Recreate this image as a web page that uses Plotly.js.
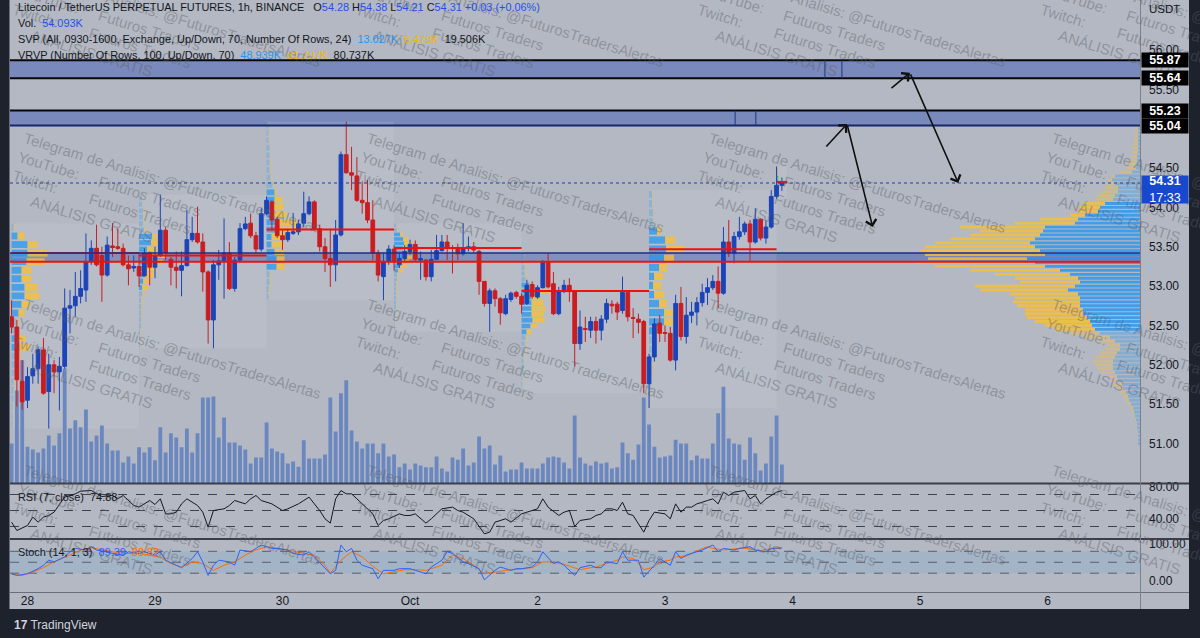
<!DOCTYPE html>
<html><head><meta charset="utf-8">
<script src="https://cdn.plot.ly/plotly-3.0.1.min.js"></script>
<style>html,body{margin:0;padding:0;background:#1e222d;}#chart{width:1200px;height:638px;}</style>
</head><body><div id="chart"></div>
<script>
// ---------------- DATA ----------------
const firstBar = '2022-09-27T21:00:00Z';   // first hourly candle (UTC)
const axisOrigin = '2022-09-28T00:00:00Z'; // "28" tick
const dayTickLabels = ['28','29','30','Oct','2','3','4','5','6'];
const priceTicks = [51,51.5,52,52.5,53,53.5,54,54.5,55.5,56];

const opens = [52.61,52.48,51.79,51.55,51.86,51.95,52.19,51.66,52.00,51.91,
51.98,52.72,52.75,52.87,52.95,53.31,53.48,53.39,53.14,53.51,
53.50,53.48,53.27,53.23,53.25,53.13,53.42,53.24,53.39,53.71,
53.34,53.24,53.20,53.26,53.59,53.67,53.56,53.18,52.57,53.27,
53.31,53.42,52.97,53.33,53.73,53.80,53.64,53.47,53.92,54.07,
53.85,53.64,53.59,53.67,53.69,53.80,53.92,54.07,53.73,53.50,
53.35,53.27,53.65,54.67,54.44,54.40,54.09,54.06,53.84,53.42,
53.12,53.31,53.47,53.27,53.35,53.44,53.53,53.33,53.33,53.12,
53.34,53.45,53.56,53.49,53.49,53.41,53.48,53.50,53.44,53.06,
52.78,52.94,52.84,52.65,52.83,52.92,52.87,52.78,53.02,52.86,
52.98,53.31,53.03,52.65,52.93,53.01,52.93,52.27,52.46,52.44,
52.55,52.44,52.58,52.77,52.77,52.69,52.92,52.60,52.58,52.55,
51.76,52.10,52.53,52.41,52.40,52.06,52.78,52.36,52.63,52.67,
52.79,52.92,52.98,53.06,52.91,53.56,53.42,53.63,53.69,53.79,
53.56,53.85,53.61,53.75,54.14,54.28];
const highs = [52.82,52.57,52.06,51.97,52.14,52.23,52.34,52.14,52.06,52.10,
52.97,52.95,53.18,53.20,53.67,53.58,53.78,53.50,53.63,53.80,
53.73,53.54,53.39,53.39,53.42,53.48,53.44,53.50,54.16,53.75,
53.37,53.44,53.44,53.97,53.88,54.01,53.67,53.20,53.33,53.46,
53.86,53.56,53.37,53.80,53.88,53.92,53.69,53.99,54.14,54.09,
53.88,53.71,53.73,53.93,53.84,54.20,54.14,54.09,53.78,53.61,
53.73,53.84,54.71,55.09,54.77,54.64,54.33,54.35,54.09,53.46,
53.42,53.52,53.52,53.42,53.52,53.59,53.58,53.44,53.35,53.46,
53.65,53.65,53.65,53.52,53.54,53.80,53.63,53.56,53.46,53.06,
52.97,52.97,52.86,52.89,52.93,52.94,52.91,53.08,53.06,53.01,
53.33,53.42,53.18,52.99,53.08,53.10,52.95,52.69,52.61,52.61,
52.61,52.63,52.84,52.82,52.80,53.12,52.95,52.72,52.65,52.57,
52.14,52.59,52.63,52.50,52.48,52.89,52.99,52.86,52.80,52.86,
53.03,53.10,53.14,53.25,53.75,53.84,53.69,53.88,53.82,53.84,
53.99,53.86,53.84,54.22,54.52,54.38];
const lows = [52.40,51.47,51.43,51.45,51.76,51.76,51.62,51.19,51.64,51.42,
51.95,52.40,52.61,52.78,52.80,53.27,53.25,52.80,53.12,53.37,
53.46,53.25,53.01,53.18,52.99,53.12,53.01,53.10,53.37,53.33,
53.01,52.97,52.87,53.25,53.56,53.54,52.93,52.27,52.21,53.08,
52.84,52.95,52.93,53.31,53.71,53.61,53.42,53.44,53.90,53.71,
53.61,53.46,53.56,53.65,53.65,53.75,53.90,53.71,53.44,53.18,
52.99,53.06,53.63,54.43,54.22,54.07,53.92,53.80,53.33,53.06,
52.82,53.27,53.20,53.23,53.31,53.40,53.31,53.08,53.07,53.06,
53.33,53.44,53.33,53.16,53.33,53.39,53.44,53.42,52.89,52.74,
52.42,52.74,52.51,52.63,52.80,52.84,52.65,52.76,52.84,52.84,
52.97,52.97,52.63,52.63,52.91,52.80,51.98,52.19,52.29,52.34,
52.27,52.31,52.53,52.65,52.57,52.65,52.55,52.34,52.40,51.64,
51.45,52.04,52.29,52.29,52.04,51.93,52.31,52.27,52.53,52.50,
52.74,52.76,52.95,52.72,52.89,53.37,53.29,53.59,53.65,53.31,
53.54,53.58,53.54,53.73,54.11,54.21];
const closes = [52.48,51.81,51.53,51.85,51.95,52.19,51.64,52.00,51.91,51.98,
52.72,52.75,52.87,52.97,53.31,53.48,53.27,53.14,53.52,53.49,
53.48,53.27,53.22,53.25,53.13,53.42,53.24,53.39,53.71,53.42,
53.24,53.20,53.26,53.59,53.67,53.56,53.18,52.57,53.27,53.32,
53.42,52.97,53.33,53.73,53.79,53.64,53.47,53.92,54.09,53.84,
53.64,53.59,53.68,53.69,53.79,53.92,54.07,53.73,53.50,53.35,
53.27,53.65,54.67,54.44,54.41,54.09,54.06,53.84,53.42,53.14,
53.31,53.47,53.31,53.35,53.44,53.53,53.34,53.35,53.12,53.34,
53.45,53.56,53.48,53.48,53.41,53.49,53.50,53.46,53.06,52.78,
52.94,52.84,52.66,52.84,52.91,52.87,52.77,53.01,52.87,52.98,
53.31,52.99,52.65,52.93,53.01,52.93,52.27,52.48,52.45,52.55,
52.44,52.58,52.78,52.75,52.67,52.92,52.61,52.59,52.54,51.76,
52.10,52.52,52.40,52.40,52.06,52.78,52.36,52.63,52.67,52.79,
52.92,52.98,53.06,52.91,53.56,53.42,53.63,53.69,53.79,53.56,
53.85,53.61,53.75,54.14,54.28,54.31];
// volume, thousands of LTC
const volumesK = [114,265,351,105,97,88,100,137,108,143,
328,157,180,160,211,120,137,165,114,94,
94,60,77,57,103,88,103,66,160,88,
143,131,103,157,88,143,245,245,248,131,
188,117,117,108,97,57,74,74,174,100,
91,86,57,63,48,123,71,71,71,83,
245,148,257,294,151,120,100,114,114,86,
114,77,83,46,57,40,57,51,46,46,
77,43,34,74,68,100,51,60,134,100,
108,54,80,34,40,40,60,43,43,43,
57,74,77,74,60,43,194,74,57,51,
63,57,60,43,46,117,86,68,111,245,
168,105,74,77,80,125,114,114,66,80,
71,71,114,200,276,128,114,111,68,131,
86,37,57,134,194,54.093];

// RSI(7) read at candle index
const rsiBar = [0,1,3,4,5,6,7,8,9,10,12,13,15,16,17,19,20,21,22,23,24,26,27,28,29,30,31,32,33,35,36,37,38,40,41,42,44,45,46,47,49,50,51,52,54,55,56,57,58,59,60,61,62,63,64,65,66,68,69,70,71,73,74,75,76,78,79,80,81,83,84,85,87,89,90,91,93,94,96,97,99,100,101,103,104,105,106,107,109,110,111,112,113,114,115,116,117,119,120,121,123,124,125,126,127,128,129,131,132,133,134,135,136,138,139,140,141,142,144,145];
const rsiVal = [35.4,25.0,31.3,41.7,35.4,41.7,43.8,47.9,57.5,66.7,70.8,74.2,75.0,70.8,67.5,68.8,64.6,68.8,62.5,56.3,54.2,62.5,57.5,64.6,45.8,45.8,47.9,58.3,64.6,56.3,47.9,29.2,50.0,52.1,56.3,62.5,58.3,64.6,68.8,62.5,58.3,54.2,50.0,52.1,58.3,62.5,66.7,58.3,50.0,39.6,34.2,64.6,75.0,70.8,70.8,64.6,58.3,45.8,31.3,37.5,39.6,45.8,43.8,43.8,45.8,34.2,39.6,45.8,52.1,54.2,50.0,47.9,39.6,20.8,22.9,35.4,39.6,35.4,45.8,47.9,52.1,64.6,54.2,43.8,47.9,50.0,30.0,37.5,39.6,43.8,45.8,52.1,52.1,50.0,60.4,45.8,43.8,22.9,37.5,47.9,45.8,39.6,58.3,47.9,54.2,54.2,58.3,62.5,64.6,58.3,72.9,68.8,72.9,75.0,64.6,68.8,58.3,64.6,72.9,74.88];
// Stoch(14,1,3) %K and %D read at candle index
const stochKBar = [0,1,3,5,6,7,8,10,11,12,14,15,16,18,19,21,22,24,25,27,28,29,31,32,34,35,36,37,38,39,41,42,43,45,46,47,49,50,52,53,55,56,57,59,60,61,62,63,64,65,66,68,69,70,72,73,75,76,78,79,81,82,83,85,86,88,89,91,92,94,95,96,98,99,100,102,103,104,106,107,109,110,111,112,114,115,116,118,119,121,122,124,125,126,127,129,130,132,133,134,136,137,139,140,142,143,145];
const stochK = [18.5,13.9,18.5,32.4,41.7,55.6,51.0,64.8,78.7,88.0,83.4,92.6,83.4,78.7,74.1,69.5,78.7,74.1,78.7,69.5,78.7,55.6,41.7,35.2,60.2,78.7,51.0,13.9,41.7,55.6,51.0,41.7,83.4,78.7,88.0,97.2,88.0,88.0,83.4,74.1,69.5,78.7,64.8,32.4,18.5,27.8,97.2,78.7,88.0,55.6,41.7,32.4,4.6,27.8,27.8,32.4,32.4,27.8,18.5,37.0,55.6,78.7,74.1,51.0,46.3,32.4,1.9,27.8,37.0,27.8,32.4,32.4,37.0,51.0,78.7,46.3,51.0,41.7,13.9,35.2,41.7,35.2,35.2,51.0,46.3,78.7,55.6,55.6,9.3,41.7,60.2,41.7,78.7,60.2,69.5,78.7,83.4,97.2,78.7,88.0,83.4,88.0,92.6,83.4,78.7,88.0,89.39];
const stochDBar = [0,2,4,6,8,11,13,15,17,19,21,24,26,28,30,32,34,36,38,40,42,44,46,48,50,52,55,57,59,60,62,64,66,68,70,72,74,76,78,81,83,85,87,89,91,94,96,98,100,102,104,107,109,110,112,114,115,117,118,119,121,122,124,125,127,128,129,131,132,134,135,137,138,140,141,142,145];
const stochD = [16.7,13.9,23.2,35.2,51.0,69.5,83.4,89.8,83.4,78.7,74.1,74.1,69.5,63.0,46.3,37.0,51.0,46.3,27.8,41.7,51.0,69.5,83.4,92.6,88.0,83.4,74.1,69.5,41.7,20.4,55.6,78.7,64.8,38.9,18.5,23.2,29.6,29.6,27.8,41.7,69.5,60.2,41.7,18.5,23.2,29.6,31.5,35.2,51.0,51.0,44.4,29.6,35.2,37.0,46.3,55.6,64.8,60.2,48.2,29.6,37.0,51.0,55.6,64.8,66.7,74.1,81.5,92.6,88.0,83.4,85.2,88.0,88.0,83.4,81.5,85.2,88.82];

// Horizontal zones / levels drawn on the chart
const zoneTop = [55.87, 55.23];
const zoneBottom = [55.64, 55.04];
const pocBand = [53.31, 53.42];
const vrvpPoc = 53.31;
const lastPrice = 54.31;
const countdown = '17:33';

// Session volume profiles (24 rows each, top to bottom), up / down volume
const svp1Up = [2,6,16,16,15,10,10,13,13,10,7,5,4,6,8,5,4,3,2,2,2,1,1,1];
const svp1Dn = [2,7,10,20,18,10,10,13,15,8,6,3,2,8,10,5,3,2,2,1,1,1,1,1];
const svp2Up = [3,3,4,4,4,5,13,12,8,12,10,5,5,4,3,3,2,2,2,2,2,1,1,1];
const svp2Dn = [1,1,2,2,2,3,5,8,10,15,14,12,10,8,6,4,3,2,2,1,1,1,1,1];
const svp3Up = [2,2,2,3,3,3,3,4,6,8,8,5,5,10,9,5,5,8,10,10,3,3,2,2];
const svp3Dn = [1,1,1,1,1,2,2,2,2,2,8,12,15,20,22,15,12,10,8,8,2,2,2,1];
const svp4Up = [2,3,6,9,10,9,10,8,7,5,4,3,3,2,2,2,2,2,2,1,1,1,1,1];
const svp4Dn = [1,1,3,5,8,15,12,10,8,8,5,2,2,2,2,2,1,1,1,1,1,1,1,1];
const svp5Up = [2,2,3,3,4,8,12,10,10,10,10,11,9,5,4,3,2,2,2,2,2,1,1,1];
const svp5Dn = [1,1,2,2,2,3,16,9,12,14,12,12,7,5,3,2,2,2,1,1,1,1,1,1];
const svp6Up = [3,3,4,4,8,16,17,15,10,5,4,5,10,15,15,6,4,3,3,2,2,2,1,1];
const svp6Dn = [1,1,1,1,4,10,18,10,8,9,8,10,8,10,9,7,4,4,3,2,2,1,1,1];
const svp7Up = [0,1,1,1,1,1,1,2,2,2,2,3,3,2,2,2,2,1,1,1,1,1,0,0];
const svp7Dn = [1,1,1,1,1,1,1,1,1,1,1,2,1,1,1,1,1,1,1,1,1,1,1,0];

// Visible range volume profile, rows from 55.00 down in 0.05 steps
const vrvpTop = 55.00, vrvpStep = 0.05;
const vrvpUp = [2,2,2,2,2,2,2,3,3,3, 4,8,25,28,25,22,22,25,27,35, 40,42,55,62,65,95,97,100,105,110, 105,100,95,113,105,95,80,70,62,60, 65,72,62,60,60,60,57,57,53,50, 48,45,40,30,25,20,20,23,25,27, 27,27,25,23,22,18,17,14,12,11, 9,7,6,5,4,3,3,2,2,2, 2];
const vrvpDown = [2,3,4,4,5,5,5,5,7,9, 10,12,3,4,7,13,16,17,18,20, 20,20,15,38,60,85,63,70,85,95, 110,120,120,99,120,110,90,75,63,60, 100,88,68,65,67,63,58,58,60,55, 47,40,30,25,15,13,15,17,20,20, 18,15,13,10,8,9,6,6,5,4, 3,3,2,1,1,1,0,1,0,0, 0];

const svpLegendVals = [13.027, 6.479, 19.506];
const vrvpLegendVals = [48.939, 31.797, 80.737];

// hand drawn arrows: [tailHour, tailPrice, headHour, headPrice]
const arrowSegs = [[150.1,54.755,154.26,55.06],[154.26,55.06,159.1,53.75],[162.35,55.50,166.1,55.71],[166.1,55.71,175.2,54.31]];
const zoneMarks = [[150.1,55.64,55.87],[153.3,55.64,55.87],[133.2,55.04,55.23],[137.1,55.04,55.23]];

// ---------------- GEOMETRY / STYLE ----------------
const W = 1200, H = 638;
const px = x => x / W, py = y => 1 - y / H;
const PXH = 127.5 / 24;             // px per hour
const HPX = 1 / PXH;                // hours per px
const X0PX = 27.5;                  // px of axisOrigin
const hourAt = x => (x - X0PX) * HPX;
const PPX = 78.7;                   // px per 1.00 USDT
const priceAt = y => 56 - (y - 50) / PPX;
const H0 = (Date.parse(firstBar) - Date.parse(axisOrigin)) / 3.6e6;
const barX = i => H0 + i;
const N = closes.length;
const xs = closes.map((_, i) => barX(i));

const BG = '#b4b8c2', DARK = '#1e222d', TXT = '#131722';
const UP = '#1a44b8', DN = '#c91d22';
const FONT = 'Liberation Sans, Arial, sans-serif';
const VOLK_PER_PX = 2.85;

const traces = [];
traces.push({type:'bar', x: xs, y: volumesK, xaxis:'x', yaxis:'y', width: 0.72,
  marker:{color:'#6b87c0', line:{width:0}}, hoverinfo:'skip'});

const shapes = [];
const annotations = [];

// session profiles
const sessUp = [svp1Up, svp2Up, svp3Up, svp4Up, svp5Up, svp6Up, svp7Up];
const sessDn = [svp1Dn, svp2Dn, svp3Dn, svp4Dn, svp5Dn, svp6Dn, svp7Dn];
const SESSION = 24;
sessUp.forEach((up, s) => {
  const dn = sessDn[s];
  const i0 = s * SESSION, i1 = Math.min(i0 + SESSION - 1, N - 1);
  const hi = Math.max(...highs.slice(i0, i1 + 1));
  const lo = Math.min(...lows.slice(i0, i1 + 1));
  const rh = (hi - lo) / up.length;
  const ys = up.map((_, r) => hi - (r + 0.5) * rh);
  const x0 = barX(i0), x1 = barX(i1) + 1;
  const tot = up.map((v, r) => v + dn[r]);
  const mx = Math.max(...tot);
  const poc = tot.indexOf(mx);
  const strong = tot.map(t => t >= 0.3 * mx);
  shapes.push({type:'rect', xref:'x', yref:'y2', x0, x1, y0: lo, y1: hi,
    fillcolor:'rgba(214,224,240,0.13)', line:{width:0}, layer:'below'});
  traces.push({type:'bar', orientation:'h', xaxis:'x', yaxis:'y2', y: ys,
    x: up.map(v => v * HPX), base: x0, width: rh * 0.8, hoverinfo:'skip',
    marker:{color: strong.map(f => f ? 'rgba(33,150,243,0.72)' : 'rgba(33,150,243,0.28)'), line:{width:0}}});
  traces.push({type:'bar', orientation:'h', xaxis:'x', yaxis:'y2', y: ys,
    x: dn.map(v => v * HPX), base: up.map(v => x0 + v * HPX), width: rh * 0.8, hoverinfo:'skip',
    marker:{color: strong.map(f => f ? 'rgba(251,192,45,0.75)' : 'rgba(251,192,45,0.3)'), line:{width:0}}});
  shapes.push({type:'line', xref:'x', yref:'y2', x0, x1, y0: ys[poc], y1: ys[poc],
    line:{color:'#f01010', width:2}, layer:'above'});
});

// VRVP on the right edge
const xRange = [hourAt(10), hourAt(1140)];
const R = xRange[1];
const vrvpY = vrvpUp.map((_, i) => vrvpTop - i * vrvpStep);
const inVA = vrvpY.map(p => p >= 52.45 && p <= 54.05);
traces.push({type:'bar', orientation:'h', xaxis:'x', yaxis:'y2', y: vrvpY,
  x: vrvpUp.map(v => v * HPX), base: vrvpUp.map(v => R - v * HPX), width: vrvpStep * 0.72, hoverinfo:'skip',
  marker:{color: inVA.map(f => f ? 'rgba(33,150,243,0.78)' : 'rgba(33,150,243,0.32)'), line:{width:0}}});
traces.push({type:'bar', orientation:'h', xaxis:'x', yaxis:'y2', y: vrvpY,
  x: vrvpDown.map(v => v * HPX), base: vrvpUp.map((v, i) => R - (v + vrvpDown[i]) * HPX), width: vrvpStep * 0.72, hoverinfo:'skip',
  marker:{color: inVA.map(f => f ? 'rgba(251,192,45,0.78)' : 'rgba(251,192,45,0.35)'), line:{width:0}}});

// candles
traces.push({type:'candlestick', x: xs, open: opens, high: highs, low: lows, close: closes,
  xaxis:'x', yaxis:'y2', whiskerwidth: 0, hoverinfo:'skip',
  increasing:{line:{color:UP, width:1}, fillcolor:UP},
  decreasing:{line:{color:DN, width:1}, fillcolor:DN}});

// RSI & Stoch
traces.push({type:'scatter', mode:'lines', x: rsiBar.map(barX), y: rsiVal, xaxis:'x', yaxis:'y3',
  line:{color:'#131722', width:1}, hoverinfo:'skip'});
traces.push({type:'scatter', mode:'lines', x: stochDBar.map(barX), y: stochD, xaxis:'x', yaxis:'y4',
  line:{color:'#ff6d00', width:1}, hoverinfo:'skip'});
traces.push({type:'scatter', mode:'lines', x: stochKBar.map(barX), y: stochK, xaxis:'x', yaxis:'y4',
  line:{color:'#2962ff', width:1}, hoverinfo:'skip'});

// zones
zoneTop.forEach((t, z) => {
  const b = zoneBottom[z];
  shapes.push({type:'rect', xref:'paper', yref:'y2', x0: px(10), x1: px(1140), y0: b, y1: t,
    fillcolor:'rgba(48,80,180,0.45)', line:{width:0}, layer:'below'});
  shapes.push({type:'line', xref:'paper', yref:'y2', x0: px(10), x1: px(1140), y0: t, y1: t,
    line:{color:'#05070d', width:2}, layer:'above'});
  shapes.push({type:'line', xref:'paper', yref:'y2', x0: px(10), x1: px(1140), y0: b, y1: b,
    line:{color: z === 0 ? '#05070d' : '#16276b', width:2}, layer:'above'});
});
zoneMarks.forEach(m => shapes.push({type:'line', xref:'x', yref:'y2', x0:m[0], x1:m[0], y0:m[1], y1:m[2],
  line:{color:'#1d3488', width:1}, layer:'above'}));
shapes.push({type:'rect', xref:'paper', yref:'y2', x0: px(10), x1: px(1140), y0: pocBand[0], y1: pocBand[1],
  fillcolor:'rgba(40,70,170,0.45)', line:{width:0}, layer:'below'});
shapes.push({type:'line', xref:'paper', yref:'y2', x0: px(10), x1: px(1140), y0: pocBand[1], y1: pocBand[1],
  line:{color:'#1c2f86', width:1.5}, layer:'above'});
shapes.push({type:'line', xref:'paper', yref:'y2', x0: px(10), x1: px(1140), y0: vrvpPoc, y1: vrvpPoc,
  line:{color:'#f01010', width:2}, layer:'above'});
shapes.push({type:'line', xref:'paper', yref:'y2', x0: px(10), x1: px(1140), y0: lastPrice, y1: lastPrice,
  line:{color:'#1b3fb0', width:1, dash:'dot'}, layer:'above'});

// indicator guide lines
[70, 50, 30].forEach(v => shapes.push({type:'line', xref:'paper', yref:'y3', x0: px(10), x1: px(1140), y0: v, y1: v,
  line:{color:'#3f434e', width:1, dash:'dash'}, layer:'below'}));
shapes.push({type:'rect', xref:'paper', yref:'y4', x0: px(10), x1: px(1140), y0: 20, y1: 80,
  fillcolor:'rgba(33,150,243,0.10)', line:{width:0}, layer:'below'});
[80, 50, 20].forEach(v => shapes.push({type:'line', xref:'paper', yref:'y4', x0: px(10), x1: px(1140), y0: v, y1: v,
  line:{color:'#5a5e69', width:1, dash:'dash'}, layer:'below'}));

// frame: separators and dark surround
[[483.5, 2], [539, 2]].forEach(([y, w]) => shapes.push({type:'line', xref:'paper', yref:'paper',
  x0: px(10), x1: px(1189), y0: py(y), y1: py(y), line:{color:'#3a3e49', width:w}, layer:'above'}));
shapes.push({type:'line', xref:'paper', yref:'paper', x0: px(10), x1: px(1189), y0: py(592.5), y1: py(592.5),
  line:{color:'#6a6e79', width:1}, layer:'above'});
shapes.push({type:'line', xref:'paper', yref:'paper', x0: px(1140.5), x1: px(1140.5), y0: py(609), y1: 1,
  line:{color:'#7c808b', width:1}, layer:'above'});
shapes.push({type:'rect', xref:'paper', yref:'paper', x0: 0, x1: px(9.5), y0: 0, y1: 1, fillcolor: DARK, line:{width:0}, layer:'above'});
shapes.push({type:'rect', xref:'paper', yref:'paper', x0: px(1189), x1: 1, y0: 0, y1: 1, fillcolor: DARK, line:{width:0}, layer:'above'});
shapes.push({type:'rect', xref:'paper', yref:'paper', x0: 0, x1: 1, y0: 0, y1: py(609), fillcolor: DARK, line:{width:0}, layer:'above'});

// watermark
const nb = n => '\u00a0'.repeat(n);
const wmText = 'Telegram de Analisis: @FuturosTradersAlertas<br>YouTube:' + nb(5) + 'Futuros Traders<br>Twitch:' + nb(8) + 'Futuros Traders<br>' + nb(6) + 'ANÁLISIS GRATIS';
[22, 365, 707, 1050].forEach(cx => [-26, 140, 306, 472].forEach(cy => {
  annotations.push({xref:'paper', yref:'paper', x: px(cx + 142), y: py(cy + 71), xanchor:'center', yanchor:'middle',
    text: wmText, showarrow:false, align:'left', textangle: 17,
    font:{family: FONT, size: 15, color:'rgba(88,93,104,0.42)'}});
}));

// arrows
arrowSegs.forEach(a => annotations.push({xref:'x', yref:'y2', axref:'x', ayref:'y2',
  ax: a[0], ay: a[1], x: a[2], y: a[3], text:'', showarrow:true, arrowhead: 4, arrowsize: 1.3,
  arrowwidth: 1.6, arrowcolor:'#101010', standoff: 0, startstandoff: 0}));

// price scale labels
const boxLab = (y, txt, bg, hgt, anchor, shift) => annotations.push({xref:'paper', yref:'y2', x: px(1140.5), y,
  xanchor:'left', yanchor: anchor, yshift: shift, text: txt, showarrow:false, bgcolor: bg, width: 46, height: hgt,
  borderpad: 0, align:'center', valign:'middle', font:{family: FONT, size: 12.5, color:'#ffffff'}});
zoneTop.forEach((t, z) => { boxLab(t, '<b>' + t.toFixed(2) + '</b>', '#000000', 14, 'middle', 0);
  boxLab(zoneBottom[z], '<b>' + zoneBottom[z].toFixed(2) + '</b>', '#000000', 14, 'middle', 0); });
boxLab(lastPrice, '<b>' + lastPrice.toFixed(2) + '</b><br>' + countdown, '#1848cc', 27, 'top', 8);
annotations.push({xref:'paper', yref:'paper', x: px(1147), y: py(9), xanchor:'left', yanchor:'middle',
  text:'USDT', showarrow:false, font:{family: FONT, size: 11.5, color: TXT}});

// legends
const BLUE = '#1e53e5', LBLUE = '#2196f3', YEL = '#f5b400';
const c = (col, t) => '<span style="color:' + col + '">' + t + '</span>';
const L = N - 1;
const chg = closes[L] - closes[L - 1];
const line1 = 'Litecoin / TetherUS PERPETUAL FUTURES, 1h, BINANCE' + nb(3) +
  'O' + c(BLUE, opens[L].toFixed(2)) + nb(1) + 'H' + c(BLUE, highs[L].toFixed(2)) + nb(1) +
  'L' + c(BLUE, lows[L].toFixed(2)) + nb(1) + 'C' + c(BLUE, closes[L].toFixed(2)) + nb(1) +
  c(BLUE, '+' + chg.toFixed(2) + ' (+' + (chg / closes[L - 1] * 100).toFixed(2) + '%)');
const line2 = 'Vol.' + nb(2) + c(BLUE, volumesK[L].toFixed(3) + 'K');
const line3 = 'SVP (All, 0930-1600, Exchange, Up/Down, 70, Number Of Rows, 24)' + nb(2) +
  c(LBLUE, svpLegendVals[0].toFixed(3) + 'K') + nb(2) + c(YEL, svpLegendVals[1].toFixed(3) + 'K') + nb(2) + svpLegendVals[2].toFixed(3) + 'K';
const line4 = 'VRVP (Number Of Rows, 100, Up/Down, 70)' + nb(2) +
  c(LBLUE, vrvpLegendVals[0].toFixed(3) + 'K') + nb(2) + c(YEL, vrvpLegendVals[1].toFixed(3) + 'K') + nb(2) + vrvpLegendVals[2].toFixed(3) + 'K';
const lastK = stochK[stochK.length - 1], lastD = stochD[stochD.length - 1];
const line5 = 'RSI (7, close)' + nb(2) + rsiVal[rsiVal.length - 1].toFixed(2);
const line6 = 'Stoch (14, 1, 3)' + nb(2) + c('#2962ff', lastK.toFixed(2)) + nb(2) + c('#ff6d00', lastD.toFixed(2));
[[line1, 7], [line2, 23], [line3, 39], [line4, 55], [line5, 497], [line6, 552]].forEach(([t, y]) =>
  annotations.push({xref:'paper', yref:'paper', x: px(16), y: py(y), xanchor:'left', yanchor:'middle',
    text: t, showarrow:false, font:{family: FONT, size: 10.9, color: TXT}}));
annotations.push({xref:'paper', yref:'paper', x: px(12), y: py(625), xanchor:'left', yanchor:'middle',
  text:'<b>17</b> TradingView', showarrow:false, font:{family: FONT, size: 12, color:'#d1d4dc'}});

const dayTickVals = dayTickLabels.map((_, i) => i * 24);
const axBase = {showgrid:false, zeroline:false, showline:false, fixedrange:true};
const layout = {
  width: W, height: H, margin:{l:0, r:0, t:0, b:0},
  paper_bgcolor: BG, plot_bgcolor:'rgba(0,0,0,0)', showlegend:false, hovermode:false,
  barmode:'overlay', boxgap: 0.3, boxgroupgap: 0,
  font:{family: FONT, size: 12, color: TXT},
  xaxis: Object.assign({}, axBase, {domain:[px(10), px(1140)], range: xRange, anchor:'y4',
    tickmode:'array', tickvals: dayTickVals, ticktext: dayTickLabels, ticks:'', ticklabelstandoff: 0,
    tickfont:{size:12, color: TXT}, rangeslider:{visible:false}}),
  yaxis: Object.assign({}, axBase, {domain:[py(483.5), 1], range:[0, 483.5 * VOLK_PER_PX], visible:false}),
  yaxis2: Object.assign({}, axBase, {overlaying:'y', side:'right', anchor:'x',
    range:[priceAt(483.5), priceAt(0)], tickmode:'array', tickvals: priceTicks,
    ticktext: priceTicks.map(v => v.toFixed(2)), ticks:'', ticklabelstandoff: 8, tickfont:{size:12, color: TXT}}),
  yaxis3: Object.assign({}, axBase, {domain:[py(538), py(485)], anchor:'x', side:'right', range:[15.6, 81.9],
    tickmode:'array', tickvals:[40, 80], ticktext:['40.00', '80.00'], ticks:'', ticklabelstandoff: 8, tickfont:{size:12, color: TXT}}),
  yaxis4: Object.assign({}, axBase, {domain:[py(592), py(540)], anchor:'x', side:'right', range:[-31.5, 110.96],
    tickmode:'array', tickvals:[0, 100], ticktext:['0.00', '100.00'], ticks:'', ticklabelstandoff: 8, tickfont:{size:12, color: TXT}}),
  shapes, annotations
};
Plotly.newPlot('chart', traces, layout, {staticPlot:true, displayModeBar:false});
</script>
</body></html>
